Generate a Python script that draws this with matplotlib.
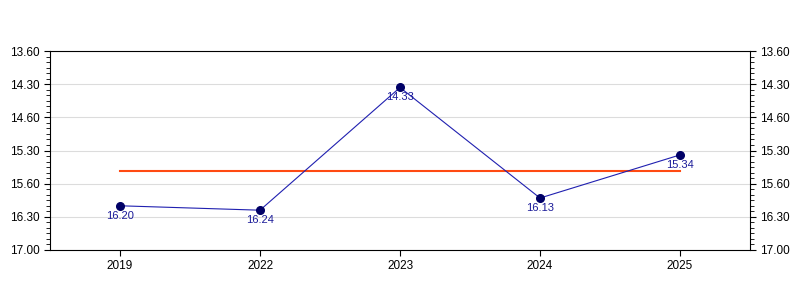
import matplotlib
matplotlib.use("Agg")
import matplotlib.pyplot as plt
from matplotlib.ticker import FixedLocator, MultipleLocator

plt.rcParams["font.family"] = ["Liberation Sans", "DejaVu Sans"]

years = ["2019", "2022", "2023", "2024", "2025"]
times = ["16.20", "16.24", "14.33", "16.13", "15.34"]   # minutes.seconds
mean_time = 15.813                                       # orange reference line (decimal minutes)
ytick_pos = [14.0, 14.5, 15.0, 15.5, 16.0, 16.5, 17.0]
ytick_lab = ["13.60", "14.30", "14.60", "15.30", "15.60", "16.30", "17.00"]


def to_min(s):
    m, sec = s.split(".")
    return int(m) + int(sec) / 60


vals = [to_min(t) for t in times]
x = list(range(len(years)))

fig = plt.figure(figsize=(8, 3), dpi=100)
ax = fig.add_axes([50 / 800, 50 / 300, 700 / 800, 199 / 300])

ax.set_ylim(17.0, 14.0)
ax.set_xlim(-0.5, len(years) - 0.5)
ax.yaxis.set_major_locator(FixedLocator(ytick_pos))
ax.set_yticklabels(ytick_lab)
ax.yaxis.set_minor_locator(MultipleLocator(0.5 / 6))
ax.grid(axis="y", color="#dcdcdc", linewidth=0.8)
ax.set_axisbelow(True)
ax.set_xticks(x)
ax.set_xticklabels(years)
ax.tick_params(axis="both", labelsize=8.5, direction="out", length=4, width=0.8)
ax.tick_params(axis="y", which="minor", length=3, width=0.6)
ax.tick_params(axis="y", which="both", right=True, labelright=True)
for s in ax.spines.values():
    s.set_linewidth(0.8)

ax.plot([x[0], x[-1]], [mean_time, mean_time], color="#ff4a12", linewidth=1.5, zorder=2)
ax.plot(x, vals, color="#2020b0", linewidth=0.8, marker="o", markersize=5.5,
        markerfacecolor="#000066", markeredgecolor="#000066", zorder=3)
for xi, v, t in zip(x, vals, times):
    ax.annotate(t, (xi, v), xytext=(0, -3.5), textcoords="offset points",
                ha="center", va="top", fontsize=8, color="#1a1a99")

fig.savefig("out.png", dpi=100)
